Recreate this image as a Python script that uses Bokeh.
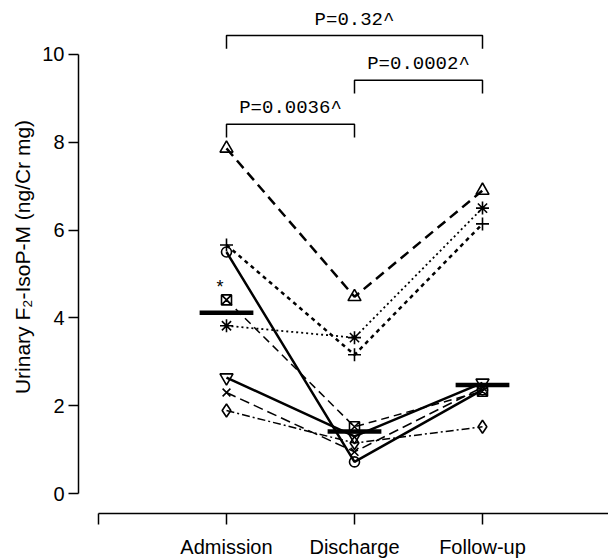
import numpy as np
from bokeh.plotting import figure
from bokeh.models import Range1d, FixedTicker
from bokeh.embed import file_html
from bokeh.resources import INLINE
from bokeh.core.properties import value

# ---------------- data ----------------
timepoints = ["Admission", "Discharge", "Follow-up"]
x_pos = [1, 2, 3]
x_ticks = [0, 1, 2, 3]
x_tick_labels = {0: "", 1: "Admission", 2: "Discharge", 3: "Follow-up"}
y_ticks = [0, 2, 4, 6, 8, 10]

# individual patients: admission, discharge, follow-up (ng/Cr mg)
pt_triangle = [7.86, 4.48, 6.90]
pt_plus = [5.66, 3.16, 6.14]
pt_asterisk = [3.82, 3.55, 6.50]
pt_circle = [5.50, 0.72, 2.36]
pt_square_x = [4.41, 1.52, 2.33]
pt_inv_triangle = [2.64, 1.30, 2.52]
pt_x = [2.30, 0.95, 2.42]
pt_diamond = [1.89, 1.15, 1.52]

p_labels = ["P=0.0036^", "P=0.0002^", "P=0.32^"]
p_pairs = [(1, 2), (2, 3), (1, 3)]
star_note = "*"

series = [
    (pt_triangle, "triangle", 13, "10 6", 2.5),
    (pt_plus, "cross", 13, "4 4", 2.5),
    (pt_asterisk, "asterisk", 13, "2 3", 1.8),
    (pt_circle, "circle", 10, "solid", 2.5),
    (pt_square_x, "square_x", 10, "8 5", 1.5),
    (pt_inv_triangle, "inverted_triangle", 13, "solid", 2.5),
    (pt_x, "x", 11, "10 5", 1.5),
    (pt_diamond, "diamond", 13, "8 3 2 3", 1.5),
]

# ---------------- figure ----------------
PX_X = 128.0
PX_Y = 44.0
p = figure(width=608, height=560, output_backend="svg", toolbar_location=None,
           x_range=Range1d(-20 / PX_X, 510 / PX_X),
           y_range=Range1d(-20 / PX_Y, 494 / PX_Y),
           min_border_left=78, min_border_right=0, min_border_top=0,
           min_border_bottom=46)
p.outline_line_color = None
p.xgrid.visible = False
p.ygrid.visible = False
p.background_fill_color = "white"
p.border_fill_color = "white"

# y axis
p.yaxis.ticker = FixedTicker(ticks=y_ticks)
p.yaxis.bounds = (0, 10)
p.yaxis.axis_line_width = 1.5
p.yaxis.axis_line_color = "black"
p.yaxis.major_tick_line_width = 1.5
p.yaxis.major_tick_line_color = "black"
p.yaxis.major_tick_out = 10
p.yaxis.major_tick_in = 0
p.yaxis.minor_tick_line_color = None
p.yaxis.major_label_text_font = "Liberation Sans"
p.yaxis.major_label_text_font_size = "20px"
p.yaxis.major_label_text_color = "black"
p.yaxis.major_label_standoff = 4
p.yaxis.axis_label = "Urinary F\u2082-IsoP-M (ng/Cr mg)"
p.yaxis.axis_label_text_font = "Liberation Sans"
p.yaxis.axis_label_text_font_size = "21px"
p.yaxis.axis_label_text_font_style = "normal"
p.yaxis.axis_label_text_color = "black"
p.yaxis.axis_label_standoff = 5

# x axis
p.xaxis.ticker = FixedTicker(ticks=x_ticks)
p.xaxis.major_label_overrides = x_tick_labels
p.xaxis.bounds = (0, 4)
p.xaxis.axis_line_width = 1.5
p.xaxis.axis_line_color = "black"
p.xaxis.major_tick_line_width = 1.5
p.xaxis.major_tick_line_color = "black"
p.xaxis.major_tick_out = 11
p.xaxis.major_tick_in = 0
p.xaxis.minor_tick_line_color = None
p.xaxis.major_label_text_font = "Liberation Sans"
p.xaxis.major_label_text_font_size = "20px"
p.xaxis.major_label_text_color = "black"
p.xaxis.major_label_standoff = 11

# patient lines
for vals, marker, size, dash, lw in series:
    p.line(x_pos, vals, line_color="black", line_width=lw, line_dash=dash)
for vals, marker, size, dash, lw in series:
    p.scatter(x_pos, vals, marker=marker, size=size, line_color="black",
              line_width=1.6, fill_color=None)

# median bars
all_vals = np.array([s[0] for s in series])
medians = np.median(all_vals, axis=0)
half = 0.21
p.segment(x0=[x - half for x in x_pos], y0=medians, x1=[x + half for x in x_pos],
          y1=medians, line_color="black", line_width=4.5)

# note on admission square marker
p.text(x=[x_pos[0] - 0.05], y=[pt_square_x[0] + 0.3], text=[star_note],
       text_font=value("Liberation Sans"), text_font_size="18px",
       text_align="center", text_baseline="middle", text_color="black")

# significance brackets
bar_levels = [8.41, 9.41, 10.43]
leg = 0.3
for (a, b), lvl, lab in zip(p_pairs, bar_levels, p_labels):
    p.line([a, a, b, b], [lvl - leg, lvl, lvl, lvl - leg], line_color="black",
           line_width=1.5)
    p.text(x=[(a + b) / 2], y=[lvl + 0.36], text=[lab],
           text_font=value("Liberation Mono"), text_font_size="19px",
           text_align="center", text_baseline="middle", text_color="black")

open("out.html", "w").write(file_html(p, INLINE))
